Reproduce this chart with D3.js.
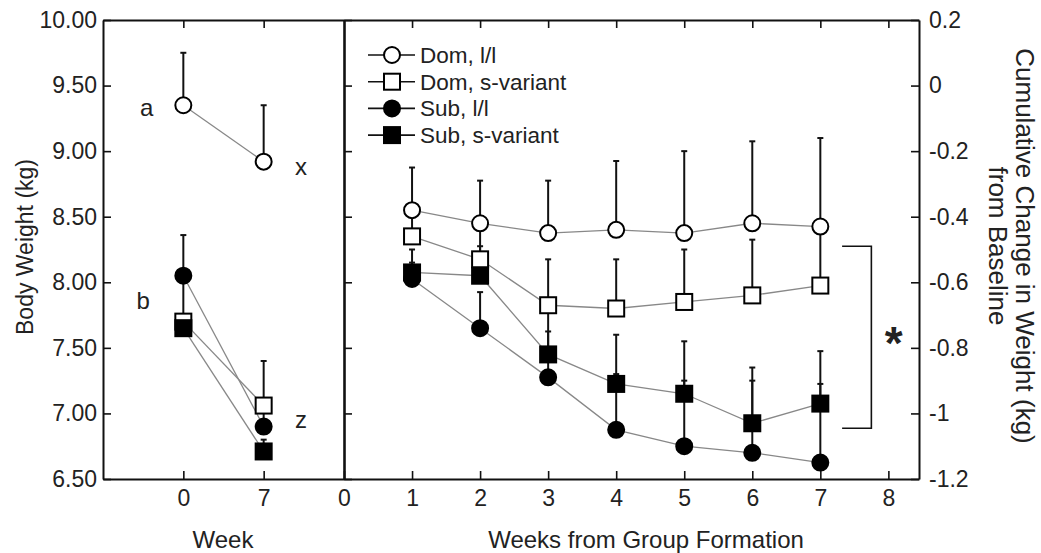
<!DOCTYPE html>
<html>
<head>
<meta charset="utf-8">
<script src="https://cdn.jsdelivr.net/npm/d3@7"></script>
<style>
  body { margin: 0; background: #fff; }
  text { font-family: "Liberation Sans", Arial, Helvetica, sans-serif; fill: #222; }
</style>
</head>
<body>
<svg id="chart" width="1041" height="553"></svg>
<script>
// ---- data ----
var series = ["Dom, l/l", "Dom, s-variant", "Sub, l/l", "Sub, s-variant"];
var shapes = ["circle", "square", "circle", "square"];
var fills = ["#fff", "#fff", "#000", "#000"];

// left panel: body weight (kg) at week 0 and week 7
var baseWeeks = [0, 7];
var baseMean = [
  [9.35, 8.92],
  [7.70, 7.06],
  [8.05, 6.90],
  [7.65, 6.71]
];
var baseErr = [
  [0.40, 0.43],
  [0.32, 0.34],
  [0.31, 0.12],
  [0.08, 0.09]
];
var groupLetters = ["a", "x", "b", "z"];

// right panel: cumulative change from baseline (kg), weeks 1..7
var weeks = [1, 2, 3, 4, 5, 6, 7];
var changeMean = [
  [-0.38, -0.42, -0.45, -0.44, -0.45, -0.42, -0.43],
  [-0.46, -0.53, -0.67, -0.68, -0.66, -0.64, -0.61],
  [-0.59, -0.74, -0.89, -1.05, -1.10, -1.12, -1.15],
  [-0.57, -0.58, -0.82, -0.91, -0.94, -1.03, -0.97]
];
var changeErr = [
  [0.13, 0.13, 0.16, 0.21, 0.25, 0.25, 0.27],
  [0.07, 0.10, 0.14, 0.15, 0.16, 0.17, 0.16],
  [0.05, 0.11, 0.21, 0.17, 0.20, 0.22, 0.24],
  [0.07, 0.09, 0.07, 0.15, 0.16, 0.17, 0.16]
];

var leftTicks = [6.5, 7, 7.5, 8, 8.5, 9, 9.5, 10];
var rightTicks = [0.2, 0, -0.2, -0.4, -0.6, -0.8, -1, -1.2];
var weekTicks = [0, 1, 2, 3, 4, 5, 6, 7, 8];

var svg = d3.select("#chart");

// scales
var xL = d3.scaleLinear().domain([-7, 14]).range([103, 344]);
var xR = d3.scaleLinear().domain([0, 8.45]).range([344, 919]);
var yL = d3.scaleLinear().domain([6.5, 10]).range([479, 20]);
var yR = d3.scaleLinear().domain([-1.2, 0.2]).range([479, 20]);

function styleAxis(g, size) {
  g.select(".domain").attr("stroke", "#111").attr("stroke-width", 2);
  g.selectAll(".tick line").attr("stroke", "#111").attr("stroke-width", 1.6);
  g.selectAll(".tick text").style("font-size", size + "px").attr("fill", "#222");
}

/******** axes / frame ********/
svg.append("g").attr("transform", "translate(103,0)")
  .call(d3.axisLeft(yL).tickValues(leftTicks).tickFormat(d3.format(".2f"))
    .tickSizeInner(-8).tickSizeOuter(0).tickPadding(6))
  .call(styleAxis, 23);

svg.append("g").attr("transform", "translate(344,0)")
  .call(d3.axisRight(yL).tickValues(leftTicks).tickFormat("")
    .tickSizeInner(8).tickSizeOuter(0))
  .call(styleAxis, 23)
  .select(".domain").attr("stroke-width", 2.6);

svg.append("g").attr("transform", "translate(919,0)")
  .call(d3.axisRight(yR).tickValues(rightTicks).tickFormat(function (d) { return String(d); })
    .tickSizeInner(-8).tickSizeOuter(0).tickPadding(10))
  .call(styleAxis, 23);

// bottom
svg.append("g").attr("transform", "translate(0,479)")
  .call(d3.axisBottom(xL).tickValues(baseWeeks).tickSizeInner(-8).tickSizeOuter(0).tickPadding(11))
  .call(styleAxis, 23);
svg.append("g").attr("transform", "translate(0,479)")
  .call(d3.axisBottom(xR).tickValues(weekTicks).tickSizeInner(-8).tickSizeOuter(0).tickPadding(11))
  .call(styleAxis, 23);

// top
svg.append("g").attr("transform", "translate(0,20)")
  .call(d3.axisTop(xL).tickValues(baseWeeks).tickFormat("").tickSizeInner(-8).tickSizeOuter(0))
  .call(styleAxis, 23);
svg.append("g").attr("transform", "translate(0,20)")
  .call(d3.axisTop(xR).tickValues(weekTicks.slice(1)).tickFormat("").tickSizeInner(-8).tickSizeOuter(0))
  .call(styleAxis, 23);

/******** titles ********/
svg.append("text")
  .attr("transform", "translate(33,247) rotate(-90)")
  .attr("text-anchor", "middle")
  .style("font-size", "23px")
  .text("Body Weight (kg)");

svg.append("text")
  .attr("x", 223).attr("y", 548)
  .attr("text-anchor", "middle")
  .style("font-size", "24px")
  .text("Week");

svg.append("text")
  .attr("x", 646).attr("y", 548)
  .attr("text-anchor", "middle")
  .style("font-size", "24px")
  .text("Weeks from Group Formation");

var rt = svg.append("text")
  .attr("transform", "translate(1024,246) rotate(90)")
  .attr("text-anchor", "middle")
  .style("font-size", "26px");
rt.append("tspan").attr("x", 0).attr("dy", "0.3em").text("Cumulative Change in Weight (kg)");
rt.append("tspan").attr("x", 0).attr("dy", "1.05em").text("from Baseline");

/******** draw one panel ********/
function drawPanel(xs, means, errs, x, y) {
  var line = d3.line()
    .x(function (d) { return x(d[0]); })
    .y(function (d) { return y(d[1]); });

  var pts = means.map(function (m, s) {
    return m.map(function (v, i) { return [xs[i], v, errs[s][i], s]; });
  });

  // connecting lines
  svg.append("g").selectAll("path")
    .data(pts).enter().append("path")
    .attr("d", line)
    .attr("fill", "none")
    .attr("stroke", "#888")
    .attr("stroke-width", 1.3);

  // error bars (upper only)
  var all = d3.merge(pts);
  var eb = svg.append("g").selectAll("g").data(all).enter().append("g");
  eb.append("line")
    .attr("x1", function (d) { return x(d[0]); })
    .attr("x2", function (d) { return x(d[0]); })
    .attr("y1", function (d) { return y(d[1]); })
    .attr("y2", function (d) { return y(d[1] + d[2]); })
    .attr("stroke", "#111").attr("stroke-width", 2);
  eb.append("line")
    .attr("x1", function (d) { return x(d[0]) - 3; })
    .attr("x2", function (d) { return x(d[0]) + 3; })
    .attr("y1", function (d) { return y(d[1] + d[2]); })
    .attr("y2", function (d) { return y(d[1] + d[2]); })
    .attr("stroke", "#111").attr("stroke-width", 2);

  // markers
  all.forEach(function (d) {
    marker(svg, x(d[0]), y(d[1]), d[3]);
  });
}

function marker(parent, cx, cy, s) {
  if (shapes[s] == "circle") {
    parent.append("circle")
      .attr("cx", cx).attr("cy", cy).attr("r", 8)
      .attr("fill", fills[s]).attr("stroke", "#000").attr("stroke-width", 2);
  } else {
    parent.append("rect")
      .attr("x", cx - 8).attr("y", cy - 8).attr("width", 16).attr("height", 16)
      .attr("fill", fills[s]).attr("stroke", "#000").attr("stroke-width", 2);
  }
}

drawPanel(baseWeeks, baseMean, baseErr, xL, yL);
drawPanel(weeks, changeMean, changeErr, xR, yR);

/******** group letters ********/
var letterPos = [[-3.2, 9.33], [10.25, 8.88], [-3.5, 7.86], [10.25, 6.95]];
svg.append("g").selectAll("text")
  .data(groupLetters).enter().append("text")
  .attr("x", function (d, i) { return xL(letterPos[i][0]); })
  .attr("y", function (d, i) { return yL(letterPos[i][1]); })
  .attr("text-anchor", "middle")
  .attr("dy", "0.35em")
  .style("font-size", "24px")
  .text(function (d) { return d; });

/******** significance bracket ********/
var br = [7.32, 7.75, -0.49, -1.045];
svg.append("path")
  .attr("d", "M" + xR(br[0]) + "," + yR(br[2]) + "H" + xR(br[1]) + "V" + yR(br[3]) + "H" + xR(br[0]))
  .attr("fill", "none").attr("stroke", "#111").attr("stroke-width", 1.6);
svg.append("text")
  .attr("x", xR(8.08)).attr("y", yR(-0.73) + 34)
  .attr("text-anchor", "middle")
  .style("font-size", "46px").style("font-weight", "bold")
  .text("*");

/******** legend ********/
var leg = svg.append("g").selectAll("g")
  .data(series).enter().append("g")
  .attr("transform", function (d, i) { return "translate(392," + (55 + i * 26.7) + ")"; });
leg.append("line")
  .attr("x1", -24).attr("x2", 23)
  .attr("stroke", "#111").attr("stroke-width", 1.6);
leg.each(function (d, i) { marker(d3.select(this), 0, 0, i); });
leg.append("text")
  .attr("x", 28).attr("dy", "0.35em")
  .style("font-size", "22.5px")
  .text(function (d) { return d; });
</script>
</body>
</html>
